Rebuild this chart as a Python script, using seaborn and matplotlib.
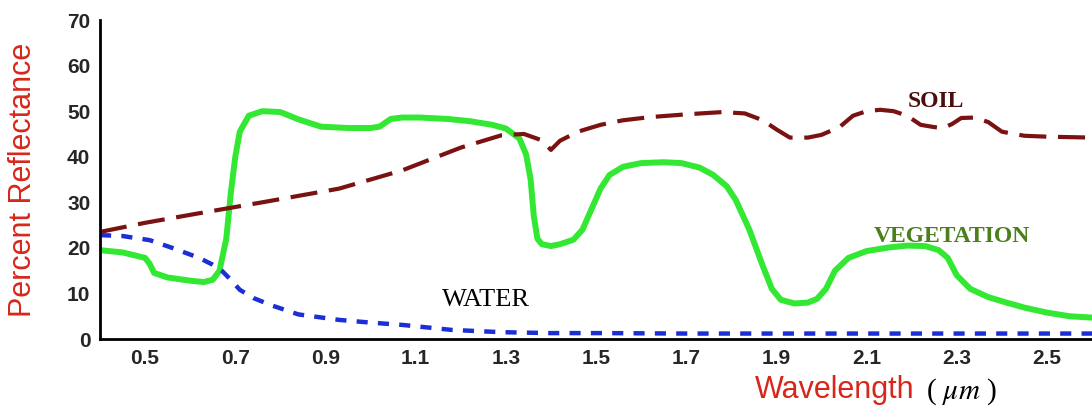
import numpy as np
import pandas as pd
import seaborn as sns
import matplotlib.pyplot as plt

# wavelength (um) / percent reflectance
veg_wl = [0.40, 0.45, 0.50, 0.51, 0.52, 0.55, 0.60, 0.63, 0.65, 0.665, 0.68, 0.69, 0.70,
          0.71, 0.73, 0.76, 0.80, 0.84, 0.89, 0.95, 1.00, 1.02, 1.045, 1.07, 1.11, 1.17,
          1.22, 1.27, 1.30, 1.33, 1.345, 1.355, 1.362, 1.37, 1.38, 1.40, 1.42, 1.45, 1.47,
          1.49, 1.51, 1.53, 1.56, 1.60, 1.65, 1.69, 1.73, 1.76, 1.79, 1.81, 1.84, 1.87,
          1.89, 1.91, 1.94, 1.97, 1.99, 2.01, 2.03, 2.06, 2.10, 2.15, 2.19, 2.23, 2.26,
          2.28, 2.30, 2.33, 2.37, 2.41, 2.45, 2.50, 2.55, 2.60]
veg_r = [19.5, 19.0, 17.8, 16.5, 14.5, 13.5, 12.8, 12.5, 13.0, 15.0, 22.0, 32.0, 40.0,
         45.5, 49.0, 50.0, 49.8, 48.2, 46.6, 46.3, 46.3, 46.6, 48.3, 48.6, 48.6, 48.3,
         47.8, 47.0, 46.2, 44.0, 40.5, 35.0, 27.0, 22.0, 20.8, 20.4, 20.8, 21.8, 24.0,
         28.5, 33.0, 36.0, 37.8, 38.6, 38.8, 38.6, 37.6, 36.0, 33.5, 30.5, 24.0, 16.0,
         11.0, 8.6, 7.8, 8.0, 8.8, 11.0, 15.0, 17.8, 19.3, 20.1, 20.5, 20.4, 19.5,
         17.8, 14.0, 11.0, 9.2, 8.0, 6.9, 5.8, 5.0, 4.7]

soil_wl = [0.40, 0.50, 0.62, 0.76, 0.93, 1.07, 1.20, 1.29, 1.34, 1.38, 1.40, 1.42, 1.46,
           1.51, 1.56, 1.62, 1.70, 1.78, 1.83, 1.87, 1.90, 1.93, 1.97, 2.00, 2.04, 2.07,
           2.10, 2.13, 2.16, 2.19, 2.22, 2.25, 2.27, 2.29, 2.31, 2.34, 2.37, 2.40, 2.45,
           2.50, 2.55, 2.60]
soil_r = [23.5, 25.5, 27.6, 30.0, 33.0, 37.0, 42.0, 44.7, 45.0, 43.6, 41.5, 43.5, 45.5,
          47.0, 48.0, 48.7, 49.3, 49.8, 49.5, 48.0, 46.0, 44.2, 44.2, 44.8, 46.5, 49.0,
          50.0, 50.3, 50.0, 49.0, 47.0, 46.5, 46.3, 47.2, 48.5, 48.6, 47.6, 45.5, 44.6,
          44.4, 44.3, 44.2]

water_wl = [0.40, 0.45, 0.51, 0.56, 0.62, 0.65, 0.67, 0.69, 0.71, 0.74, 0.78, 0.84, 0.93,
            1.00, 1.07, 1.18, 1.29, 1.40, 1.51, 1.70, 1.90, 2.10, 2.30, 2.60]
water_r = [22.8, 22.6, 21.7, 20.0, 17.8, 16.3, 15.0, 13.0, 10.8, 9.0, 7.4, 5.4, 4.2,
           3.6, 3.1, 2.0, 1.5, 1.3, 1.3, 1.2, 1.2, 1.2, 1.2, 1.2]

x_ticks = [0.5, 0.6, 0.7, 0.8, 0.9, 1.0, 1.1, 1.2, 1.3, 1.4, 1.5, 1.6, 1.7, 1.8, 1.9,
           2.0, 2.1, 2.2, 2.3, 2.4, 2.5]
x_labels = ["0.5", "", "0.7", "", "0.9", "", "1.1", "", "1.3", "", "1.5", "", "1.7", "",
            "1.9", "", "2.1", "", "2.3", "", "2.5"]
y_ticks = [0, 10, 20, 30, 40, 50, 60, 70]

veg = pd.DataFrame({"wl": veg_wl, "r": veg_r})
soil = pd.DataFrame({"wl": soil_wl, "r": soil_r})
water = pd.DataFrame({"wl": water_wl, "r": water_r})

sns.set_style("white")
plt.rcParams["font.family"] = ["Liberation Sans", "DejaVu Sans"]
plt.rcParams["mathtext.fontset"] = "stix"

fig = plt.figure(figsize=(10.92, 4.17), dpi=100)
ax = fig.add_axes([0.0916, 0.187, 0.9084, 0.765])

sns.lineplot(data=veg, x="wl", y="r", ax=ax, sort=False, color="#33e833", lw=4.3,
             solid_capstyle="round")
sns.lineplot(data=soil, x="wl", y="r", ax=ax, sort=False, color="#7a1212", lw=3.0)
ax.lines[-1].set_dashes([6.5, 2.8])
sns.lineplot(data=water, x="wl", y="r", ax=ax, sort=False, color="#1c2fd6", lw=3.2)
ax.lines[-1].set_dashes([2.5, 2.3])

ax.set_xlim(0.4, 2.6)
ax.set_ylim(0, 70)
ax.set_xticks(x_ticks)
ax.set_xticklabels(x_labels, fontsize=15, fontweight="bold")
ax.set_yticks(y_ticks)
ax.set_yticklabels([str(v) for v in y_ticks], fontsize=15, fontweight="bold")
ax.tick_params(axis="x", direction="in", length=6, width=1.5, pad=7)
ax.tick_params(axis="y", direction="in", length=6, width=1.5, pad=7)
for s in ["top", "right"]:
    ax.spines[s].set_visible(False)
for s in ["left", "bottom"]:
    ax.spines[s].set_linewidth(2)
    ax.spines[s].set_color("black")

ax.set_ylabel("Percent Reflectance", color="#d8261a", fontsize=22)
ax.yaxis.set_label_coords(-0.063, 0.5)
ax.set_xlabel("")

fig.text(0.691, 0.045, "Wavelength", color="#d8261a", fontsize=22, va="baseline")
fig.text(0.848, 0.045, "( $\\mathit{\\mu m}$ )", color="black", fontsize=21,
         family="Liberation Serif", va="baseline")

ax.text(2.253, 52.2, "SOIL", fontsize=17, fontweight="bold", color="#4a0e0e",
        family="Liberation Serif", ha="center", va="center")
ax.text(2.29, 22.6, "VEGETATION", fontsize=17, fontweight="bold", color="#4a7f1c",
        family="Liberation Serif", ha="center", va="center")
ax.text(1.255, 8.5, "WATER", fontsize=19, color="black",
        family="Liberation Serif", ha="center", va="center")

fig.savefig("out.png", dpi=100)
